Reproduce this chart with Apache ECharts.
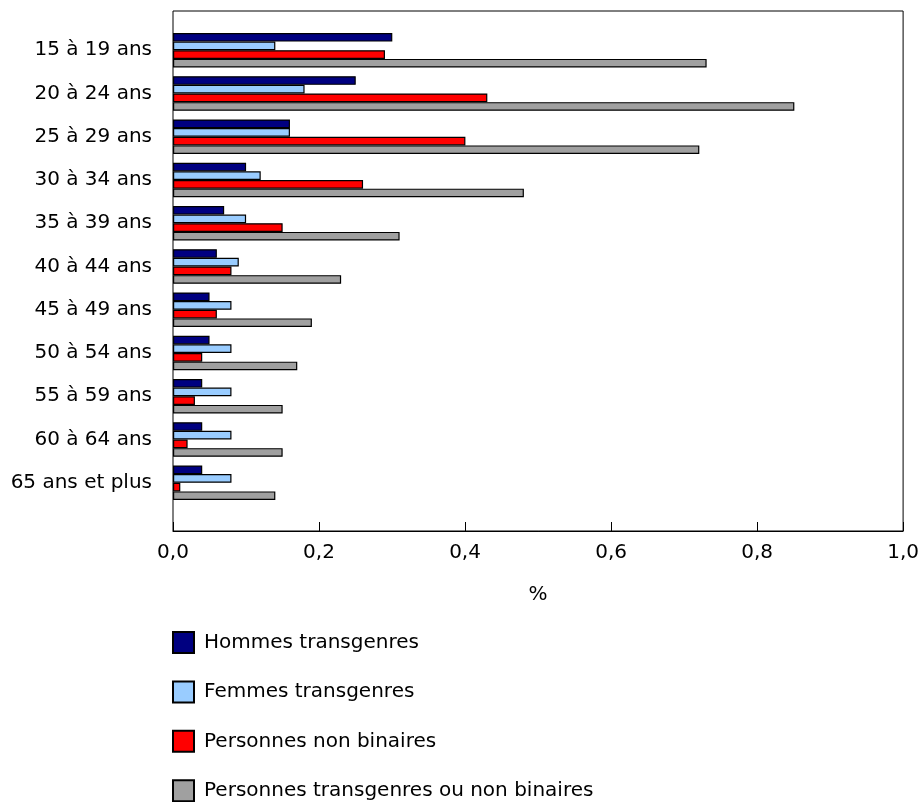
<!DOCTYPE html>
<html>
<head>
<meta charset="utf-8">
<script src="https://cdn.jsdelivr.net/npm/echarts@6/dist/echarts.min.js"></script>
<style>
html,body{margin:0;padding:0;background:#fff;}
#chart{width:922px;height:802px;}
</style>
</head>
<body>
<div id="chart"></div>
<script>
var categories = ["15 à 19 ans","20 à 24 ans","25 à 29 ans","30 à 34 ans","35 à 39 ans","40 à 44 ans","45 à 49 ans","50 à 54 ans","55 à 59 ans","60 à 64 ans","65 ans et plus"];
var seriesNames = ["Hommes transgenres","Femmes transgenres","Personnes non binaires","Personnes transgenres ou non binaires"];
var hommes = [0.30,0.25,0.16,0.10,0.07,0.06,0.05,0.05,0.04,0.04,0.04];
var femmes = [0.14,0.18,0.16,0.12,0.10,0.09,0.08,0.08,0.08,0.08,0.08];
var nonBinaires = [0.29,0.43,0.40,0.26,0.15,0.08,0.06,0.04,0.03,0.02,0.01];
var ensemble = [0.73,0.85,0.72,0.48,0.31,0.23,0.19,0.17,0.15,0.15,0.14];
var xTicks = [0,0.2,0.4,0.6,0.8,1.0];
var colors = ["#000080","#99ccff","#ff0000","#a0a0a0"];

var FONT = "'DejaVu Sans', Verdana, sans-serif";
var FS = 20;
var chart = echarts.init(document.getElementById('chart'), null, {renderer:'canvas'});
var values = [hommes, femmes, nonBinaires, ensemble];
var series = values.map(function(v, i){
  return {
    name: seriesNames[i], type: 'bar', xAxisIndex: 1, yAxisIndex: 1,
    data: v, barGap: '0%', barCategoryGap: '20%',
    itemStyle: {color: colors[i], borderColor: '#000', borderWidth: 1.2},
    emphasis: {disabled: true}, animation: false
  };
});
chart.setOption({
  animation: false,
  grid: [
    {left: 173, top: 11, width: 731, height: 520, show: true, borderColor: '#000', borderWidth: 1, backgroundColor: 'transparent'},
    {left: 173, top: 28.6, width: 731, height: 475.8}
  ],
  xAxis: [
    {gridIndex: 0, type: 'value', min: xTicks[0], max: xTicks[xTicks.length-1], interval: 0.2,
     name: '%', nameLocation: 'middle', nameGap: 54,
     nameTextStyle: {fontFamily: FONT, fontSize: FS, color: '#000'},
     axisLine: {show: true, lineStyle: {color: '#000', width: 1}},
     axisTick: {show: true, inside: true, length: 9, lineStyle: {color: '#000', width: 1}},
     axisLabel: {margin: 12, fontFamily: FONT, fontSize: FS, color: '#000',
       formatter: function(v){ return v.toFixed(1).replace('.', ','); }},
     splitLine: {show: false}},
    {gridIndex: 1, type: 'value', min: xTicks[0], max: xTicks[xTicks.length-1], show: false, splitLine: {show: false}}
  ],
  yAxis: [
    {gridIndex: 0, type: 'value', show: false, splitLine: {show: false}},
    {gridIndex: 1, type: 'category', data: categories, inverse: true,
     axisLine: {show: false}, axisTick: {show: false},
     axisLabel: {margin: 21, fontFamily: FONT, fontSize: FS, color: '#000'}}
  ],
  legend: {
    orient: 'vertical', left: 172, top: 631, height: 400, padding: 0,
    itemWidth: 21, itemHeight: 21, itemGap: 26.4,
    icon: 'rect', data: seriesNames,
    textStyle: {fontFamily: FONT, fontSize: FS, color: '#000', padding: [0,0,0,5]},
    selectedMode: false
  },
  series: series
});
</script>
</body>
</html>
